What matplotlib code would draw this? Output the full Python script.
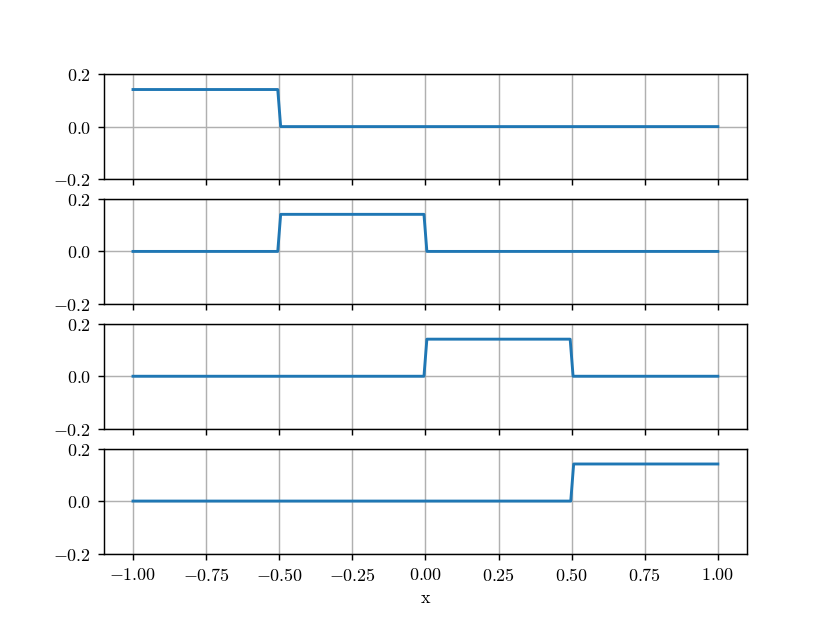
import matplotlib
matplotlib.use("Agg")
import matplotlib.pyplot as plt

# ─── données ─────────────────────────────────────────────────────────────────
x_pts = [
    [-1.0, -0.505, -0.495, 1.0],
    [-1.0, -0.505, -0.495, -0.005, 0.005, 1.0],
    [-1.0, -0.005, 0.005, 0.495, 0.505, 1.0],
    [-1.0, 0.497, 0.507, 1.0],
]
y_pts = [
    [0.1414, 0.1414, 0.0, 0.0],
    [0.0, 0.0, 0.1414, 0.1414, 0.0, 0.0],
    [0.0, 0.0, 0.1414, 0.1414, 0.0, 0.0],
    [0.0, 0.0, 0.1414, 0.1414],
]
y_ticks = [-0.2, 0.0, 0.2]
x_ticks = [-1.0, -0.75, -0.5, -0.25, 0.0, 0.25, 0.5, 0.75, 1.0]

# ─── style ───────────────────────────────────────────────────────────────────
plt.rcParams["font.family"] = "serif"
plt.rcParams["font.serif"] = ["cmr10"]
plt.rcParams["mathtext.fontset"] = "cm"
plt.rcParams["axes.formatter.use_mathtext"] = True
plt.rcParams["axes.unicode_minus"] = True

fig, axes = plt.subplots(4, 1, sharex=True, figsize=(6.4, 4.8), dpi=129.7)
fig.subplots_adjust(hspace=0.19)

for ax, xs, ys in zip(axes, x_pts, y_pts):
    ax.plot(xs, ys, color="C0", linewidth=1.6)
    ax.set_ylim(-0.2, 0.2)
    ax.set_yticks(y_ticks)
    ax.grid(True)

axes[-1].set_xticks(x_ticks)
axes[-1].set_xlabel("x")

fig.savefig("out.png", dpi=129.7)
